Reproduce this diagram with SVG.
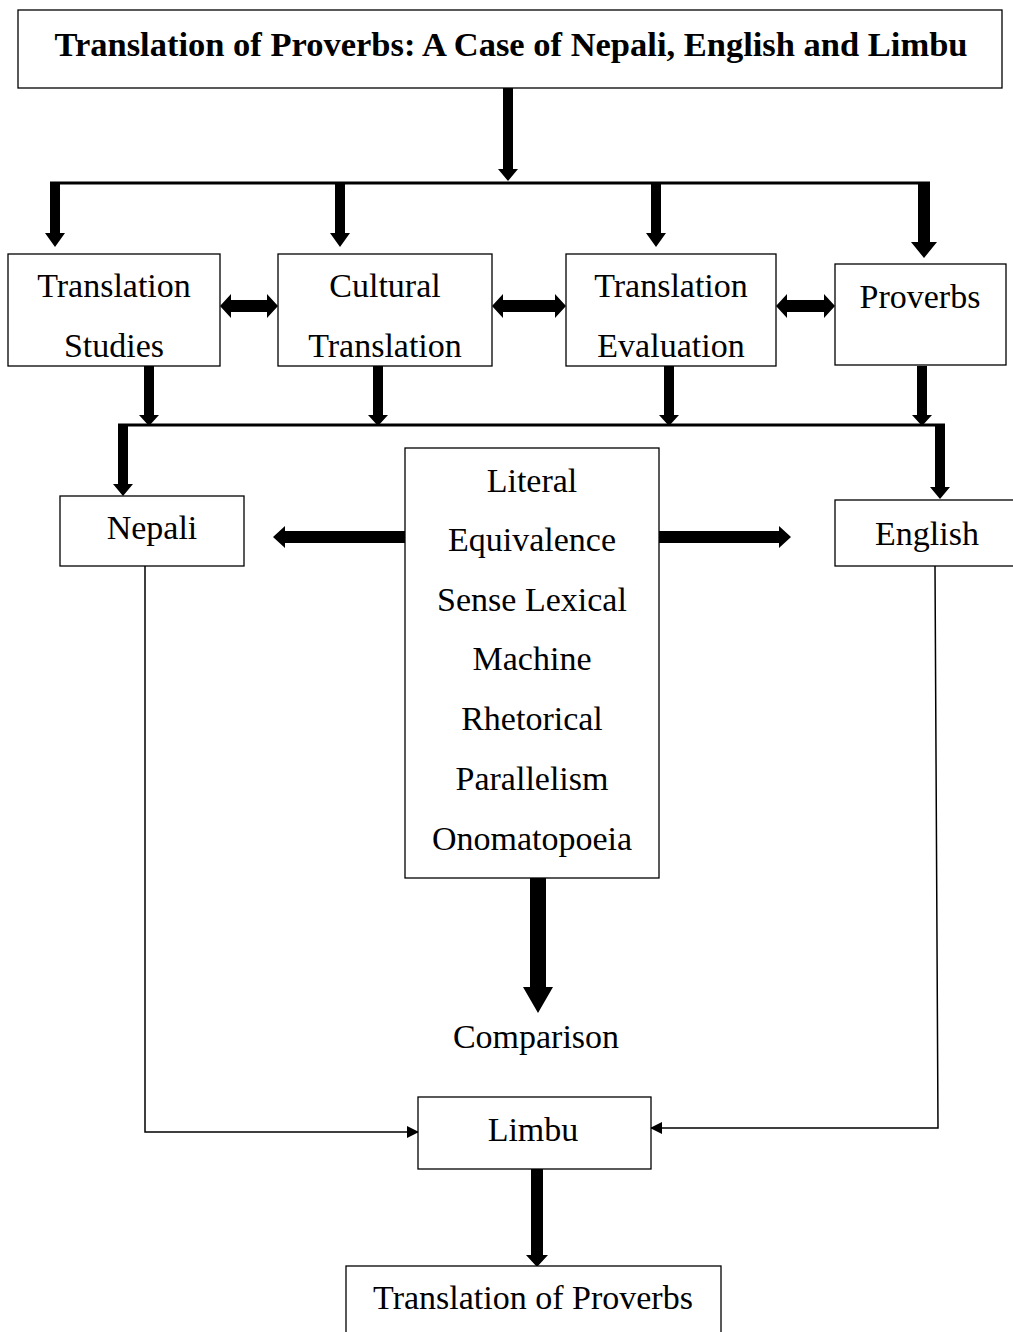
<svg xmlns="http://www.w3.org/2000/svg" width="1013" height="1332" viewBox="0 0 1013 1332">
<style>
.box{fill:#fff;stroke:#000;stroke-width:1.3}
.t{font-family:"Liberation Serif","Times New Roman",serif;font-size:34px;text-anchor:middle;fill:#000}
.b{font-weight:bold;font-size:34.5px}
.ar{fill:#000}
.ln{stroke:#000;stroke-width:3;fill:none}
.thin{stroke:#000;stroke-width:1.5;fill:none}
</style>
<defs>
<marker id="tri" markerWidth="12" markerHeight="12" refX="11" refY="6" orient="auto" markerUnits="userSpaceOnUse">
<path d="M0,0 L12,6 L0,12 z" fill="#000"/>
</marker>
</defs>
<g id="connectors">
<polygon class="ar" points="503,88 513,88 513,169 518,169 508,181 498,169 503,169"/>
<line class="ln" x1="50" y1="183" x2="930" y2="183"/>
<polygon class="ar" points="50,183 60,183 60,233 65,233 55,247 45,233 50,233"/>
<polygon class="ar" points="335,183 345,183 345,233 350,233 340,247 330,233 335,233"/>
<polygon class="ar" points="651,183 661,183 661,233 666,233 656,247 646,233 651,233"/>
<polygon class="ar" points="918,183 930,183 930,242 937,242 924,258 911,242 918,242"/>
<polygon class="ar" points="220,306 231,294 231,300 267,300 267,294 278,306 267,318 267,312 231,312 231,318"/>
<polygon class="ar" points="492,306 503,294 503,300 555,300 555,294 566,306 555,318 555,312 503,312 503,318"/>
<polygon class="ar" points="776,306 787,294 787,300 824,300 824,294 835,306 824,318 824,312 787,312 787,318"/>
<polygon class="ar" points="144,366 154,366 154,415 159,415 149,426 139,415 144,415"/>
<polygon class="ar" points="373,366 383,366 383,415 388,415 378,426 368,415 373,415"/>
<polygon class="ar" points="664,366 674,366 674,415 679,415 669,426 659,415 664,415"/>
<polygon class="ar" points="917,366 927,366 927,415 932,415 922,426 912,415 917,415"/>
<line class="ln" x1="118" y1="425" x2="945" y2="425"/>
<polygon class="ar" points="118,424 128,424 128,484 133,484 123,496 113,484 118,484"/>
<polygon class="ar" points="935,424 945,424 945,487 950,487 940,499 930,487 935,487"/>
<polygon class="ar" points="405,531 285,531 285,526 273,537 285,548 285,543 405,543"/>
<polygon class="ar" points="659,531 779,531 779,526 791,537 779,548 779,543 659,543"/>
<polygon class="ar" points="530,878 546,878 546,987 553,987 538,1013 523,987 530,987"/>
<polyline class="thin" points="145,566 145,1132 418,1132" marker-end="url(#tri)"/>
<polyline class="thin" points="935,566 938,1128 651,1128" marker-end="url(#tri)"/>
<polygon class="ar" points="531,1169 543,1169 543,1255 548,1255 537,1267 526,1255 531,1255"/>
</g>
<g id="title"><rect class="box" x="18" y="10" width="984" height="78"/><text class="t b" x="511" y="56">Translation of Proverbs: A Case of Nepali, English and Limbu</text></g>
<g id="translation-studies"><rect class="box" x="8" y="254" width="212" height="112"/><text class="t" x="114" y="297">Translation</text><text class="t" x="114" y="357">Studies</text></g>
<g id="cultural-translation"><rect class="box" x="278" y="254" width="214" height="112"/><text class="t" x="385" y="297">Cultural</text><text class="t" x="385" y="357">Translation</text></g>
<g id="translation-evaluation"><rect class="box" x="566" y="254" width="210" height="112"/><text class="t" x="671" y="297">Translation</text><text class="t" x="671" y="357">Evaluation</text></g>
<g id="proverbs"><rect class="box" x="835" y="264" width="171" height="101"/><text class="t" x="920" y="308">Proverbs</text></g>
<g id="nepali"><rect class="box" x="60" y="496" width="184" height="70"/><text class="t" x="152" y="539">Nepali</text></g>
<g id="english"><rect class="box" x="835" y="500" width="182" height="66"/><text class="t" x="927" y="545">English</text></g>
<g id="methods"><rect class="box" x="405" y="448" width="254" height="430"/>
<text class="t" x="532" y="492">Literal</text>
<text class="t" x="532" y="551">Equivalence</text>
<text class="t" x="532" y="611">Sense Lexical</text>
<text class="t" x="532" y="670">Machine</text>
<text class="t" x="532" y="730">Rhetorical</text>
<text class="t" x="532" y="790">Parallelism</text>
<text class="t" x="532" y="850">Onomatopoeia</text></g>
<g id="comparison"><text class="t" x="536" y="1048">Comparison</text></g>
<g id="limbu"><rect class="box" x="418" y="1097" width="233" height="72"/><text class="t" x="533" y="1141">Limbu</text></g>
<g id="translation-of-proverbs"><rect class="box" x="346" y="1266" width="375" height="80"/><text class="t" x="533" y="1309">Translation of Proverbs</text></g>
</svg>
